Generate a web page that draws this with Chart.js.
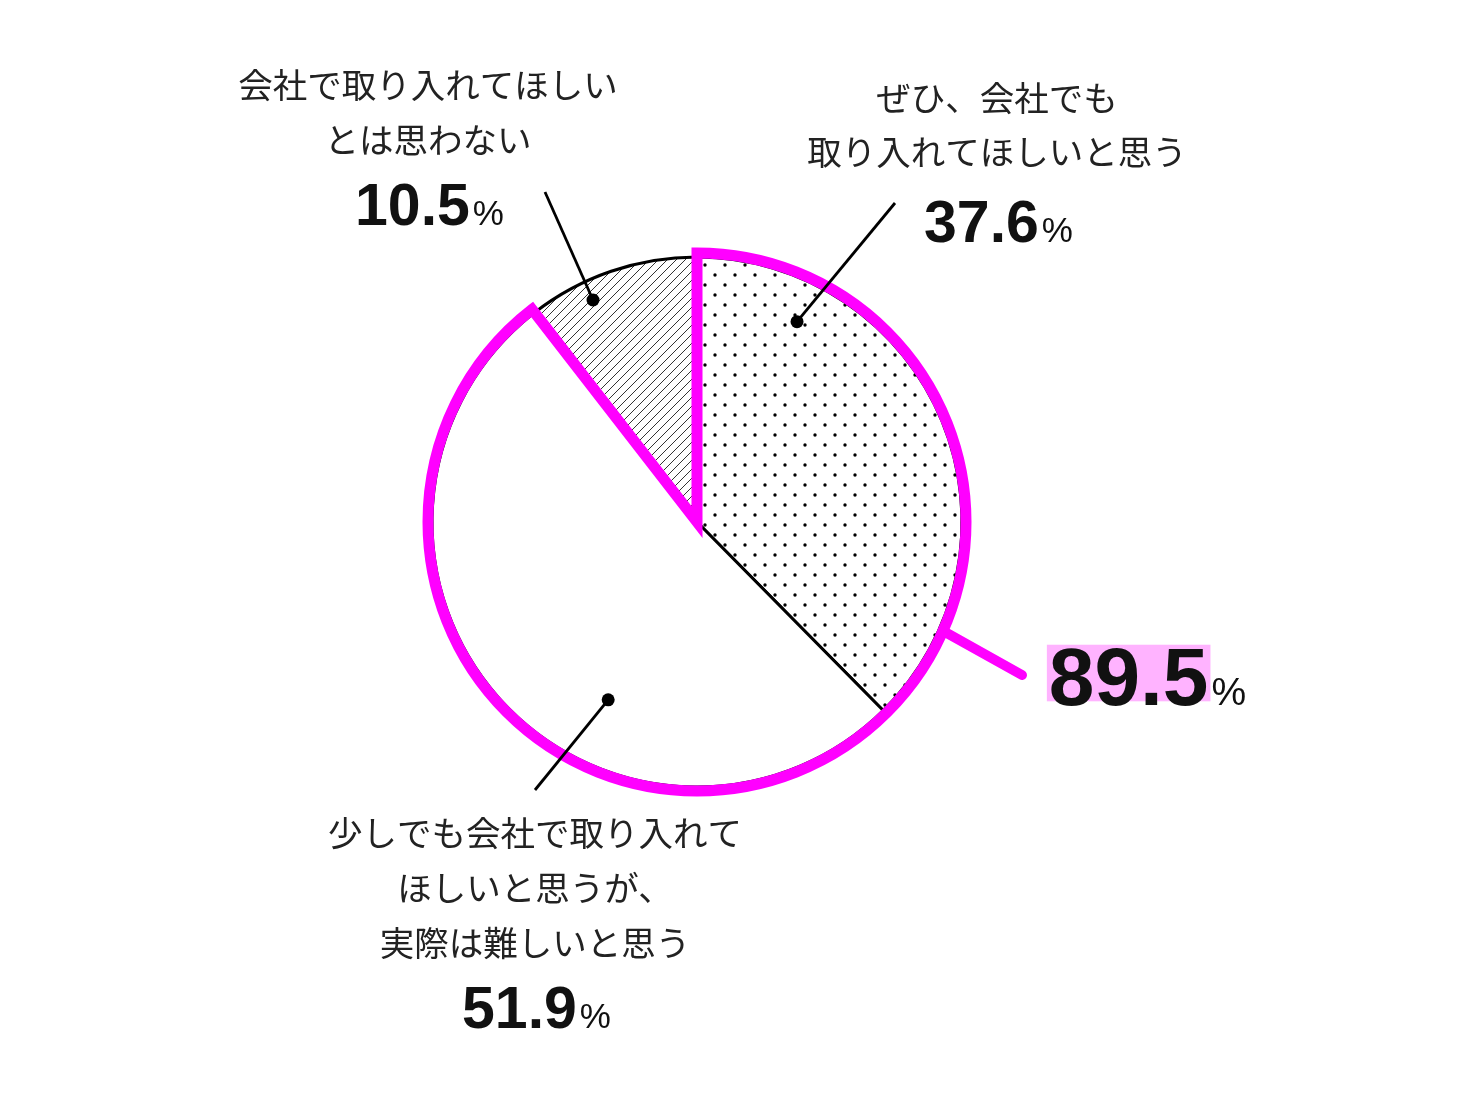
<!DOCTYPE html>
<html>
<head>
<meta charset="utf-8">
<script src="https://cdn.jsdelivr.net/npm/chart.js@4"></script>
<style>
  html, body { margin: 0; padding: 0; background: #fff; }
  #wrap { width: 1480px; height: 1100px; }
</style>
</head>
<body>
<div id="wrap"><canvas id="pie" width="1480" height="1100"></canvas></div>
<script>
// data
const categories = [
    ['ぜひ、会社でも', '取り入れてほしいと思う'],
    ['少しでも会社で取り入れて', 'ほしいと思うが、', '実際は難しいと思う'],
    ['会社で取り入れてほしい', 'とは思わない']
];
const values = [37.6, 51.9, 10.5];
const valueLabels = ['37.6', '51.9', '10.5'];
const highlightLabel = '89.5';

// fill patterns
function dotPattern() {
    const c = document.createElement('canvas');
    c.width = 20; c.height = 20;
    const g = c.getContext('2d');
    g.fillStyle = '#fff';
    g.fillRect(0, 0, 20, 20);
    g.fillStyle = '#000';
    [[5, 5], [15, 15]].forEach(p => {
        g.beginPath();
        g.arc(p[0], p[1], 1.7, 0, Math.PI * 2);
        g.fill();
    });
    return g.createPattern(c, 'repeat');
}

function hatchPattern() {
    const s = 9;
    const c = document.createElement('canvas');
    c.width = s; c.height = s;
    const g = c.getContext('2d');
    g.fillStyle = '#fff';
    g.fillRect(0, 0, s, s);
    g.strokeStyle = '#333';
    g.lineWidth = 1;
    g.beginPath();
    g.moveTo(0, s); g.lineTo(s, 0);
    g.moveTo(-1, 1); g.lineTo(1, -1);
    g.moveTo(s - 1, s + 1); g.lineTo(s + 1, s - 1);
    g.stroke();
    return g.createPattern(c, 'repeat');
}

// where each label sits, and the dot inside its slice
const labelBoxes = [
    { cx: 997, lineY: [98, 152], valueY: 242, from: [895, 203], frac: 0.196, rad: 0.845 },
    { cx: 535, lineY: [833, 888, 943], valueY: 1028, from: [535, 790], frac: 0.381, rad: 0.75 },
    { cx: 428, lineY: [85, 140], valueY: 225, from: [545, 192], frac: 0.336, rad: 0.925 }
];

const JP_FONT = '400 34.5px "Noto Sans CJK JP", "Noto Sans", sans-serif';
const NUM_FONT = '"Liberation Sans", Arial, sans-serif';

function drawValue(ctx, text, cx, baseline, size, pctSize, highlight) {
    ctx.font = 'bold ' + size + 'px ' + NUM_FONT;
    const w1 = ctx.measureText(text).width;
    ctx.font = pctSize + 'px ' + NUM_FONT;
    const w2 = ctx.measureText('%').width;
    const x0 = cx - (w1 + w2) / 2;
    if (highlight) {
        ctx.fillStyle = '#ffb3ff';
        ctx.fillRect(x0 - 2, baseline - size * 0.735, w1 + 4, size * 0.69);
    }
    ctx.fillStyle = '#111';
    ctx.textAlign = 'left';
    ctx.textBaseline = 'alphabetic';
    ctx.font = 'bold ' + size + 'px ' + NUM_FONT;
    ctx.fillText(text, x0, baseline);
    ctx.font = pctSize + 'px ' + NUM_FONT;
    ctx.fillText('%', x0 + w1 + 3, baseline);
}

const overlayPlugin = {
    id: 'overlay',
    afterDatasetsDraw(chart) {
        const ctx = chart.ctx;
        const arcs = chart.getDatasetMeta(0).data;
        const cx = arcs[0].x, cy = arcs[0].y;
        const r = arcs[0].outerRadius;
        ctx.save();

        // magenta outline around the first two slices
        const a0 = arcs[0].startAngle, a1 = arcs[1].endAngle;
        const rm = r + 4;
        ctx.strokeStyle = '#ff00ff';
        ctx.lineWidth = 11;
        ctx.lineJoin = 'miter';
        ctx.beginPath();
        ctx.moveTo(cx, cy);
        ctx.lineTo(cx + Math.cos(a0) * rm, cy + Math.sin(a0) * rm);
        ctx.arc(cx, cy, rm, a0, a1);
        ctx.closePath();
        ctx.stroke();

        // leader to the 89.5% label
        const la = (23.9 * Math.PI) / 180;
        ctx.lineCap = 'round';
        ctx.lineWidth = 10;
        ctx.beginPath();
        ctx.moveTo(cx + Math.cos(la) * rm, cy + Math.sin(la) * rm);
        ctx.lineTo(1022, 675);
        ctx.stroke();

        // per-slice leaders, dots and labels
        arcs.forEach((arc, i) => {
            const b = labelBoxes[i];
            const ang = arc.startAngle + b.frac * (arc.endAngle - arc.startAngle);
            const px = cx + Math.cos(ang) * r * b.rad;
            const py = cy + Math.sin(ang) * r * b.rad;
            ctx.strokeStyle = '#000';
            ctx.lineWidth = 2.8;
            ctx.lineCap = 'butt';
            ctx.beginPath();
            ctx.moveTo(b.from[0], b.from[1]);
            ctx.lineTo(px, py);
            ctx.stroke();
            ctx.fillStyle = '#000';
            ctx.beginPath();
            ctx.arc(px, py, 6.5, 0, Math.PI * 2);
            ctx.fill();

            ctx.font = JP_FONT;
            ctx.fillStyle = '#222';
            ctx.textAlign = 'center';
            ctx.textBaseline = 'middle';
            categories[i].forEach((line, k) => ctx.fillText(line, b.cx, b.lineY[k]));
            drawValue(ctx, valueLabels[i], b.cx, b.valueY, 59, 35, false);
        });

        drawValue(ctx, highlightLabel, 1146, 705, 82, 39, true);
        ctx.restore();
    }
};

const ctx = document.getElementById('pie').getContext('2d');
new Chart(ctx, {
    type: 'pie',
    data: {
        labels: categories.map(c => c.join('')),
        datasets: [{
            data: values,
            backgroundColor: [dotPattern(), '#ffffff', hatchPattern()],
            borderColor: '#000',
            borderWidth: 3
        }]
    },
    options: {
        responsive: false,
        animation: false,
        radius: 265,
        layout: { padding: { left: 367, right: 453, top: 192, bottom: 248 } },
        plugins: {
            legend: { display: false },
            tooltip: { enabled: false }
        }
    },
    plugins: [overlayPlugin]
});
</script>
</body>
</html>
